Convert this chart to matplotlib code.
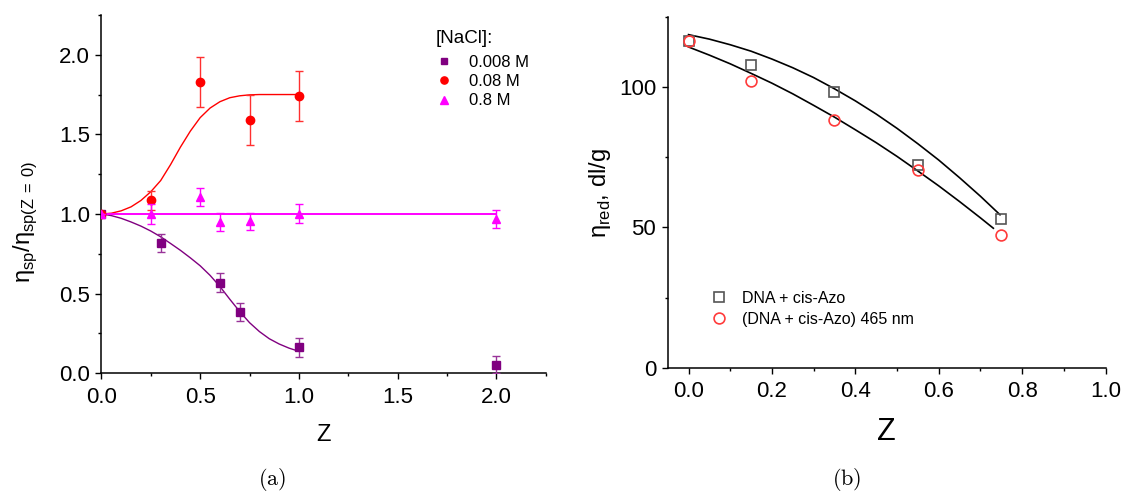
import numpy as np
import matplotlib
matplotlib.use("Agg")
import matplotlib.pyplot as plt
from matplotlib.lines import Line2D
from matplotlib.ticker import MultipleLocator

plt.rcParams['font.family'] = ['Liberation Sans', 'DejaVu Sans']
plt.rcParams['mathtext.fontset'] = 'custom'
plt.rcParams['mathtext.rm'] = 'Liberation Sans'

# ---- panel (a): eta_sp / eta_sp(Z=0) vs Z at three NaCl concentrations ----
z_low = [0.0, 0.3, 0.6, 0.7, 1.0, 2.0]
y_low = [1.0, 0.82, 0.57, 0.385, 0.162, 0.055]
e_low = [0.0, 0.057, 0.058, 0.058, 0.058, 0.055]

z_mid = [0.0, 0.25, 0.5, 0.75, 1.0]
y_mid = [1.0, 1.085, 1.83, 1.59, 1.74]
e_mid = [0.0, 0.058, 0.157, 0.156, 0.157]

z_high = [0.0, 0.25, 0.5, 0.6, 0.75, 1.0, 2.0]
y_high = [1.0, 1.0, 1.105, 0.95, 0.953, 1.003, 0.97]
e_high = [0.0, 0.06, 0.057, 0.055, 0.055, 0.06, 0.058]

# fit curves
fit_low_x = [0.0, 0.05, 0.1, 0.15, 0.2, 0.25, 0.3, 0.35, 0.4, 0.45, 0.5,
             0.55, 0.6, 0.65, 0.7, 0.75, 0.8, 0.85, 0.9, 0.95, 1.0]
fit_low_y = [1.0, 0.99, 0.973, 0.95, 0.924, 0.893, 0.857, 0.815, 0.772, 0.725, 0.675,
             0.615, 0.545, 0.465, 0.388, 0.318, 0.262, 0.217, 0.184, 0.158, 0.138]
fit_mid_x = [0.0, 0.05, 0.1, 0.15, 0.2, 0.25, 0.3, 0.35, 0.4, 0.45, 0.5,
             0.55, 0.6, 0.65, 0.7, 0.75, 0.8, 0.9, 1.0]
fit_mid_y = [1.0, 1.005, 1.02, 1.045, 1.085, 1.14, 1.21, 1.31, 1.42, 1.52, 1.605,
             1.665, 1.705, 1.73, 1.742, 1.748, 1.75, 1.75, 1.75]
fit_high_x = [0.0, 2.0]
fit_high_y = [1.0, 1.0]

nacl_labels = ['0.008 M', '0.08 M', '0.8 M']

# ---- panel (b): reduced viscosity vs Z ----
z_b = [0.0, 0.15, 0.35, 0.55, 0.75]
eta_cis = [116.3, 107.7, 98.3, 72.3, 52.9]
eta_465 = [116.3, 102.0, 88.3, 70.3, 47.3]

fit_cis_x = [0.0, 0.05, 0.1, 0.15, 0.2, 0.25, 0.3, 0.35, 0.4, 0.45, 0.5,
             0.55, 0.6, 0.65, 0.7, 0.747]
fit_cis_y = [118.7, 117.1, 115.1, 112.8, 110.0, 106.9, 103.4, 99.4, 95.1, 90.4, 85.3,
             79.8, 74.0, 67.7, 61.1, 54.5]
fit_465_x = [0.0, 0.05, 0.1, 0.15, 0.2, 0.25, 0.3, 0.35, 0.4, 0.45, 0.5,
             0.55, 0.6, 0.65, 0.7, 0.731]
fit_465_y = [114.3, 111.4, 108.3, 104.9, 101.4, 97.6, 93.5, 89.3, 84.8, 80.2, 75.3,
             70.1, 64.8, 59.2, 53.4, 49.7]

legend_b = ['DNA + cis-Azo', '(DNA + cis-Azo) 465 nm']

PURPLE = '#800080'
RED = '#ff0000'
MAGENTA = '#ff00ff'

fig = plt.figure(figsize=(11.21, 4.93), dpi=100)
ax1 = fig.add_axes([0.0905, 0.2428, 0.3963, 0.727])
ax2 = fig.add_axes([0.5956, 0.2542, 0.3906, 0.7114])

# panel (a)
ax1.plot(fit_low_x, fit_low_y, color=PURPLE, lw=1.0, zorder=2)
ax1.plot(fit_mid_x, fit_mid_y, color=RED, lw=1.0, zorder=2)
ax1.plot(fit_high_x, fit_high_y, color=MAGENTA, lw=1.4, zorder=2)

ax1.errorbar(z_low, y_low, yerr=e_low, fmt='s', ms=5.4, color=PURPLE,
             ecolor='#993399', elinewidth=1.0, capsize=3.2, capthick=1.0, zorder=3)
ax1.errorbar(z_mid, y_mid, yerr=e_mid, fmt='o', ms=6.0, color=RED,
             ecolor='#ff3030', elinewidth=1.0, capsize=3.2, capthick=1.0, zorder=3)
ax1.errorbar(z_high, y_high, yerr=e_high, fmt='^', ms=6.0, color=MAGENTA,
             ecolor=MAGENTA, elinewidth=1.0, capsize=3.2, capthick=1.0, zorder=4)

ax1.set_xlim(0, 2.25)
ax1.set_ylim(0, 2.25)
ax1.xaxis.set_major_locator(MultipleLocator(0.5))
ax1.xaxis.set_minor_locator(MultipleLocator(0.25))
ax1.yaxis.set_major_locator(MultipleLocator(0.5))
ax1.yaxis.set_minor_locator(MultipleLocator(0.25))

handles = [Line2D([], [], ls='none', marker='s', ms=4.8, color=PURPLE),
           Line2D([], [], ls='none', marker='o', ms=5.2, color=RED),
           Line2D([], [], ls='none', marker='^', ms=5.2, color=MAGENTA)]
ax1.legend(handles, nacl_labels, loc='center left', bbox_to_anchor=(0.752, 0.814),
           frameon=False, fontsize=12, handlelength=1.0, handletextpad=0.98,
           labelspacing=0.26, borderpad=0, borderaxespad=0)
ax1.text(0.752, 0.935, '[NaCl]:', transform=ax1.transAxes, fontsize=13.5,
         ha='left', va='center')

ax1.set_xlabel('Z', fontsize=17)
ax1.xaxis.set_label_coords(0.5, -0.1716)
ax1.xaxis.label.set_va('center')
ax1.set_ylabel(r'η$_{\mathregular{sp}}$/η$_{\mathregular{sp(Z\,=\,0)}}$', fontsize=17)
ax1.yaxis.set_label_coords(-0.172, 0.4227)
ax1.yaxis.label.set_va('center')

# panel (b)
ax2.plot(fit_cis_x, fit_cis_y, color='black', lw=1.2, zorder=2)
ax2.plot(fit_465_x, fit_465_y, color='black', lw=1.2, zorder=2)
ax2.plot(z_b, eta_cis, ls='none', marker='s', ms=7.2, mfc='none', mec='#555555',
         mew=1.2, zorder=3, label=legend_b[0])
ax2.plot(z_b, eta_465, ls='none', marker='o', ms=7.8, mfc='none', mec='#ff3b3b',
         mew=1.2, zorder=4, label=legend_b[1])

ax2.set_xlim(-0.05, 1.0)
ax2.set_ylim(0, 125)
ax2.xaxis.set_major_locator(MultipleLocator(0.2))
ax2.xaxis.set_minor_locator(MultipleLocator(0.1))
ax2.yaxis.set_major_locator(MultipleLocator(50))
ax2.yaxis.set_minor_locator(MultipleLocator(25))

ax2.legend(loc='center left', bbox_to_anchor=(0.099, 0.168), frameon=False,
           fontsize=11.5, handlelength=1.0, handletextpad=0.94,
           labelspacing=0.35, borderpad=0, borderaxespad=0)

ax2.set_xlabel('Z', fontsize=22)
ax2.xaxis.set_label_coords(0.5, -0.1825)
ax2.xaxis.label.set_va('center')
ax2.set_ylabel(r'η$_{\mathregular{red}}$, dl/g', fontsize=17)
ax2.yaxis.set_label_coords(-0.1546, 0.498)
ax2.yaxis.label.set_va('center')

for ax in (ax1, ax2):
    for side in ('top', 'right'):
        ax.spines[side].set_visible(False)
    for side in ('left', 'bottom'):
        ax.spines[side].set_linewidth(1.1)
    ax.tick_params(which='major', direction='out', length=4.3, width=1.0,
                   labelsize=16)
    ax.tick_params(which='minor', direction='out', length=2.4, width=1.0)
    ax.tick_params(axis='x', which='major', pad=5.5)
    ax.tick_params(axis='y', which='major', pad=4)

fig.text(0.2426, 0.0264, r'$\mathrm{(a)}$', math_fontfamily='cm', fontsize=16,
         ha='center', va='center')
fig.text(0.755, 0.0264, r'$\mathrm{(b)}$', math_fontfamily='cm', fontsize=16,
         ha='center', va='center')

fig.savefig('out.png', dpi=100)
